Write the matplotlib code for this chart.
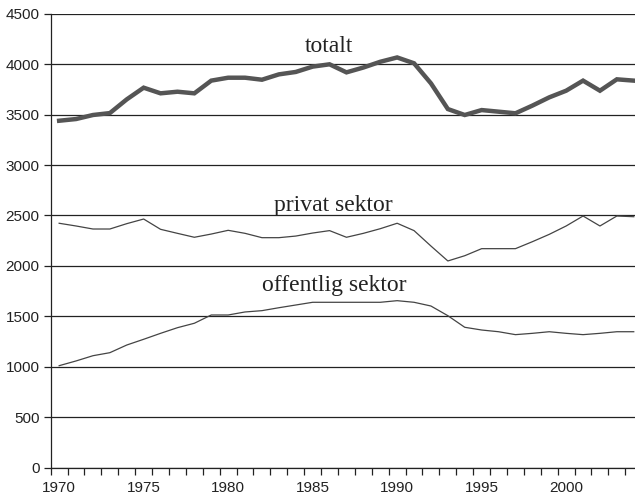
import numpy as np
import matplotlib
matplotlib.use("Agg")
import matplotlib.pyplot as plt
from matplotlib.ticker import MultipleLocator, FixedLocator

years = np.arange(1970, 2005)

totalt = [3440, 3457, 3497, 3516, 3652, 3768, 3712, 3728, 3712, 3838,
          3867, 3867, 3847, 3900, 3924, 3977, 4000, 3920, 3968, 4025,
          4068, 4010, 3811, 3556, 3497, 3546, 3530, 3514, 3590, 3672,
          3738, 3838, 3738, 3851, 3838]

privat = [2423, 2396, 2366, 2366, 2419, 2465, 2363, 2323, 2284, 2316,
          2353, 2323, 2280, 2280, 2296, 2326, 2350, 2284, 2323, 2369,
          2423, 2350, 2197, 2049, 2101, 2171, 2171, 2171, 2240, 2313,
          2396, 2495, 2396, 2495, 2488]

offentlig = [1010, 1057, 1109, 1139, 1215, 1272, 1331, 1387, 1431, 1513,
             1513, 1543, 1556, 1585, 1612, 1639, 1639, 1639, 1639, 1639,
             1655, 1639, 1602, 1506, 1391, 1364, 1347, 1318, 1331, 1347,
             1331, 1318, 1331, 1347, 1347]

# etiketter: (text, x, y)
labels = [("totalt", 1985.97, 4122),
          ("privat sektor", 1986.2, 2548),
          ("offentlig sektor", 1986.3, 1754)]

year_labels = [1970, 1975, 1980, 1985, 1990, 1995, 2000]

fig = plt.figure(figsize=(6.35, 5.01), dpi=100)
ax = fig.add_axes([50.7 / 635, 33.5 / 501, (635 - 50.7) / 635, 453.6 / 501])

ax.plot(years, totalt, color="#555555", lw=3.2, solid_joinstyle="miter", zorder=3)
ax.plot(years, privat, color="#444444", lw=0.9, zorder=3)
ax.plot(years, offentlig, color="#444444", lw=0.9, zorder=3)

for txt, x, y in labels:
    ax.text(x, y, txt, ha="center", va="baseline", fontsize=17,
            family="Liberation Serif", color="#222222")

ax.set_xlim(1969.5, 1969.5 + (635 - 50.7) / 16.9)
ax.set_ylim(0, 4500)

ax.yaxis.set_major_locator(MultipleLocator(500))
ax.yaxis.grid(True, color="#222222", lw=0.9)
ax.set_axisbelow(True)

ax.xaxis.set_major_locator(FixedLocator(year_labels))
ax.xaxis.set_minor_locator(FixedLocator(np.arange(1969.5, 2005, 1)))
ax.tick_params(axis="x", which="major", length=0, pad=10)
ax.tick_params(axis="x", which="minor", length=5, width=0.9, direction="out", color="#222222")
ax.tick_params(axis="y", length=5, width=0.9, direction="out", color="#222222", pad=3)

for lab in ax.get_xticklabels() + ax.get_yticklabels():
    lab.set_family("Liberation Sans")
    lab.set_fontsize(11)
    lab.set_color("#222222")

for s in ["top", "right"]:
    ax.spines[s].set_visible(False)
for s in ["left", "bottom"]:
    ax.spines[s].set_color("#222222")
    ax.spines[s].set_linewidth(0.9)

fig.savefig("out.png", dpi=100)
